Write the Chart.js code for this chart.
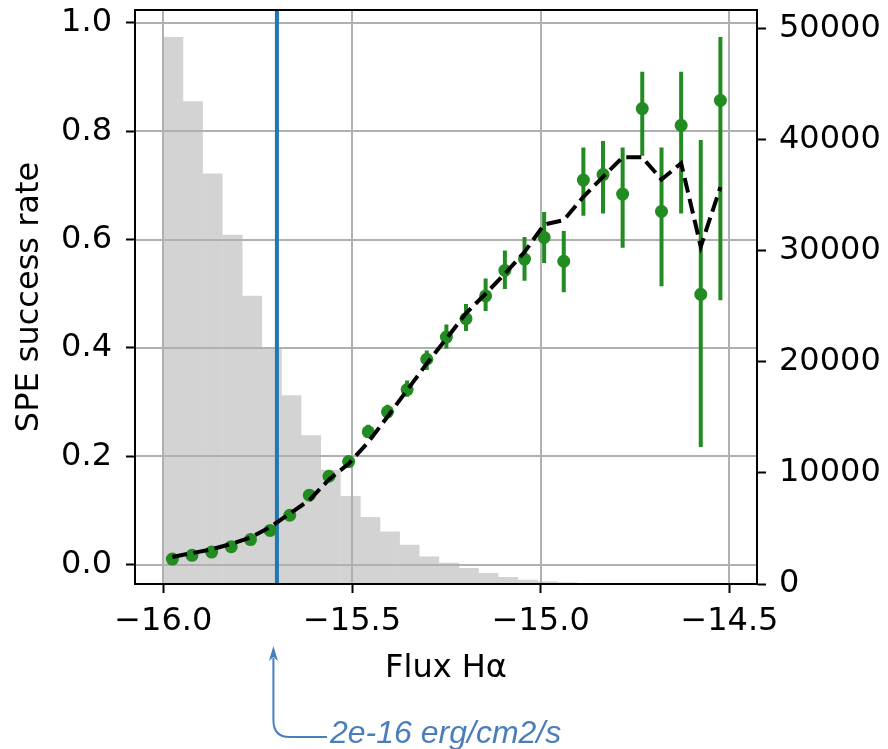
<!DOCTYPE html>
<html>
<head>
<meta charset="utf-8">
<script src="https://cdn.jsdelivr.net/npm/chart.js@4.4.1/dist/chart.umd.min.js"></script>
<style>
  html, body { margin: 0; padding: 0; background: #ffffff; }
  canvas { display: block; }
</style>
</head>
<body>
<canvas id="c" width="888" height="749"></canvas>
<script>
// ---- data ----
const fluxCenters = [-15.976, -15.924, -15.872, -15.820, -15.769, -15.717, -15.665, -15.613, -15.561, -15.509,
                     -15.457, -15.406, -15.354, -15.302, -15.250, -15.198, -15.146, -15.095, -15.043, -14.991,
                     -14.939, -14.887, -14.835, -14.783, -14.731, -14.680, -14.628, -14.576, -14.524];
const successRate = [0.010, 0.017, 0.023, 0.033, 0.046, 0.063, 0.091, 0.128, 0.163, 0.190,
                     0.245, 0.282, 0.323, 0.379, 0.420, 0.454, 0.496, 0.543, 0.564, 0.604,
                     0.560, 0.710, 0.720, 0.684, 0.842, 0.652, 0.811, 0.499, 0.857];
const rateLow  = [0.008, 0.015, 0.021, 0.031, 0.043, 0.059, 0.086, 0.122, 0.156, 0.181,
                  0.234, 0.270, 0.310, 0.359, 0.399, 0.431, 0.468, 0.509, 0.524, 0.557,
                  0.503, 0.644, 0.648, 0.585, 0.755, 0.514, 0.648, 0.217, 0.488];
const rateHigh = [0.012, 0.019, 0.025, 0.035, 0.049, 0.067, 0.096, 0.134, 0.170, 0.199,
                  0.258, 0.295, 0.340, 0.395, 0.443, 0.481, 0.528, 0.580, 0.605, 0.651,
                  0.616, 0.770, 0.782, 0.770, 0.910, 0.770, 0.910, 0.784, 0.974];
const modelRate = [0.014, 0.021, 0.028, 0.038, 0.050, 0.069, 0.094, 0.119, 0.157, 0.186,
                   0.226, 0.273, 0.322, 0.371, 0.417, 0.464, 0.500, 0.537, 0.577, 0.628,
                   0.636, 0.679, 0.716, 0.752, 0.752, 0.711, 0.741, 0.587, 0.697];
const histBinCenters = [-15.974, -15.922, -15.870, -15.817, -15.765, -15.713, -15.661, -15.609, -15.557, -15.504,
                        -15.452, -15.400, -15.348, -15.296, -15.243, -15.191, -15.139, -15.087, -15.035, -14.983,
                        -14.930, -14.878, -14.826, -14.774, -14.722, -14.669, -14.617, -14.565, -14.513, -14.461];
const histCounts = [49200, 43400, 36900, 31400, 25900, 21300, 16950, 13350, 10250, 7900,
                    6000, 4700, 3500, 2450, 1880, 1410, 960, 600, 360, 210,
                    120, 60, 30, 20, 10, 8, 5, 4, 3, 2];
const xTickValues = [-16.0, -15.5, -15.0, -14.5];
const yTickValues = [0.0, 0.2, 0.4, 0.6, 0.8, 1.0];
const y2TickValues = [0, 10000, 20000, 30000, 40000, 50000];
const threshold = -15.699;            // log10(2e-16)
const annotationText = '2e-16 erg/cm2/s';
const xLabel = 'Flux H\u03B1';
const yLabel = 'SPE success rate';
const xRange = [-16.075, -14.427];
const yRange = [-0.036, 1.024];
const y2Range = [0, 51650];

// ---- derived tables for the library ----
const histData = histBinCenters.map((x, i) => ({x: x, y: histCounts[i]}));
const pointData = fluxCenters.map((x, i) => ({x: x, y: successRate[i]}));
const modelData = fluxCenters.map((x, i) => ({x: x, y: modelRate[i]}));
const errData = [];
fluxCenters.forEach((x, i) => {
  errData.push({x: x, y: rateLow[i]});
  errData.push({x: x, y: rateHigh[i]});
  errData.push({x: x, y: null});
});
const vlineData = [{x: threshold, y: yRange[0]}, {x: threshold, y: yRange[1]}];

const FONT = 'DejaVu Sans';
const FS = 32;
const GREEN = '#228b22';
const ANN = '#4a7ebb';

const gridOverHist = {
  id: 'gridOverHist',
  afterDatasetDraw(chart, args) {
    if (args.index !== 0) return;
    const {ctx, chartArea: a, scales} = chart;
    ctx.save();
    ctx.beginPath();
    ctx.rect(a.left, a.top, a.right - a.left, a.bottom - a.top);
    ctx.clip();
    ctx.strokeStyle = '#b0b0b0';
    ctx.lineWidth = 2;
    scales.x.ticks.forEach(t => {
      const p = Math.round(scales.x.getPixelForValue(t.value));
      ctx.beginPath(); ctx.moveTo(p, a.top); ctx.lineTo(p, a.bottom); ctx.stroke();
    });
    scales.y.ticks.forEach(t => {
      const p = Math.round(scales.y.getPixelForValue(t.value));
      ctx.beginPath(); ctx.moveTo(a.left, p); ctx.lineTo(a.right, p); ctx.stroke();
    });
    ctx.restore();
  }
};

const frameAndNote = {
  id: 'frameAndNote',
  afterDatasetsDraw(chart) {
    const {ctx, chartArea: a} = chart;
    ctx.save();
    ctx.strokeStyle = '#000';
    ctx.lineWidth = 2;
    ctx.strokeRect(a.left, a.top, a.right - a.left, a.bottom - a.top);
    ctx.restore();
  },
  afterDraw(chart) {
    const {ctx} = chart;
    const px = chart.scales.x.getPixelForValue(threshold) - 3.5;
    ctx.save();
    ctx.strokeStyle = ANN;
    ctx.fillStyle = ANN;
    ctx.lineWidth = 2;
    ctx.beginPath();
    ctx.moveTo(327, 737);
    ctx.lineTo(px + 16, 737);
    ctx.quadraticCurveTo(px, 737, px, 720);
    ctx.lineTo(px, 658);
    ctx.stroke();
    ctx.beginPath();
    ctx.moveTo(px, 646);
    ctx.lineTo(px - 4.5, 661);
    ctx.lineTo(px, 657);
    ctx.lineTo(px + 4.5, 661);
    ctx.closePath();
    ctx.fill();
    ctx.font = 'italic 32px "Liberation Sans"';
    ctx.textBaseline = 'alphabetic';
    ctx.textAlign = 'left';
    ctx.fillText(annotationText, 330, 743);
    ctx.restore();
  }
};

const minus = v => (v < 0 ? '\u2212' : '') + Math.abs(v).toFixed(1);
const setTicks = list => s => { s.ticks = list.map(v => ({value: v})); };

new Chart(document.getElementById('c'), {
  type: 'scatter',
  data: {
    datasets: [
      {
        type: 'bar', label: 'histogram', data: histData, yAxisID: 'y2', xAxisID: 'x',
        backgroundColor: '#d3d3d3', borderWidth: 0, grouped: false,
        barPercentage: 1.0, categoryPercentage: 1.0, order: 10
      },
      {
        type: 'line', label: 'threshold', data: vlineData, yAxisID: 'y',
        borderColor: '#1f77b4', borderWidth: 4, pointRadius: 0, fill: false, order: 4
      },
      {
        type: 'line', label: 'errors', data: errData, yAxisID: 'y',
        borderColor: GREEN, borderWidth: 4, pointRadius: 0, spanGaps: false, fill: false,
        borderCapStyle: 'butt', order: 3
      },
      {
        type: 'scatter', label: 'success', data: pointData, yAxisID: 'y',
        backgroundColor: GREEN, borderColor: GREEN, borderWidth: 0, pointRadius: 6.5, order: 2
      },
      {
        type: 'line', label: 'model', data: modelData, yAxisID: 'y',
        borderColor: '#000000', borderWidth: 4, borderDash: [15, 6.5], pointRadius: 0,
        tension: 0, fill: false, borderCapStyle: 'butt', order: 1
      }
    ]
  },
  options: {
    responsive: false,
    devicePixelRatio: 1,
    animation: false,
    events: [],
    layout: { padding: { top: 10, left: 0, right: 0, bottom: 0 } },
    plugins: { legend: { display: false }, tooltip: { enabled: false } },
    scales: {
      x: {
        type: 'linear', position: 'bottom', min: xRange[0], max: xRange[1], offset: false,
        afterBuildTicks: setTicks(xTickValues),
        afterFit: s => { s.height = 165; s.paddingLeft = 0; s.paddingRight = 0; },
        ticks: {
          autoSkip: false, maxRotation: 0,
          color: '#000', padding: 9, font: { family: FONT, size: FS },
          callback: v => minus(v)
        },
        grid: { offset: false, drawOnChartArea: false, drawTicks: true, tickLength: 9, tickWidth: 2, tickColor: '#000' },
        border: { display: true, color: '#000', width: 2 },
        title: { display: true, text: xLabel, color: '#000', font: { family: FONT, size: FS },
                 padding: { top: 0, bottom: 61 } }
      },
      y: {
        type: 'linear', position: 'left', min: yRange[0], max: yRange[1],
        afterBuildTicks: setTicks(yTickValues),
        afterFit: s => { s.width = 135; s.paddingTop = 0; s.paddingBottom = 0; },
        ticks: {
          autoSkip: false,
          color: '#000', padding: 14, font: { family: FONT, size: FS },
          callback: v => v.toFixed(1)
        },
        grid: { offset: false, drawOnChartArea: false, drawTicks: true, tickLength: 9, tickWidth: 2, tickColor: '#000' },
        border: { display: true, color: '#000', width: 2 },
        title: { display: true, text: yLabel, color: '#000', font: { family: FONT, size: FS },
                 padding: { top: 10, bottom: 0 } }
      },
      y2: {
        type: 'linear', position: 'right', min: y2Range[0], max: y2Range[1],
        afterBuildTicks: setTicks(y2TickValues),
        afterFit: s => { s.width = 131; s.paddingTop = 0; s.paddingBottom = 0; },
        ticks: {
          autoSkip: false,
          color: '#000', padding: 13, font: { family: FONT, size: FS },
          callback: v => String(v)
        },
        grid: { offset: false, drawOnChartArea: false, drawTicks: true, tickLength: 9, tickWidth: 2, tickColor: '#000' },
        border: { display: true, color: '#000', width: 2 }
      }
    }
  },
  plugins: [gridOverHist, frameAndNote]
});
</script>
</body>
</html>
